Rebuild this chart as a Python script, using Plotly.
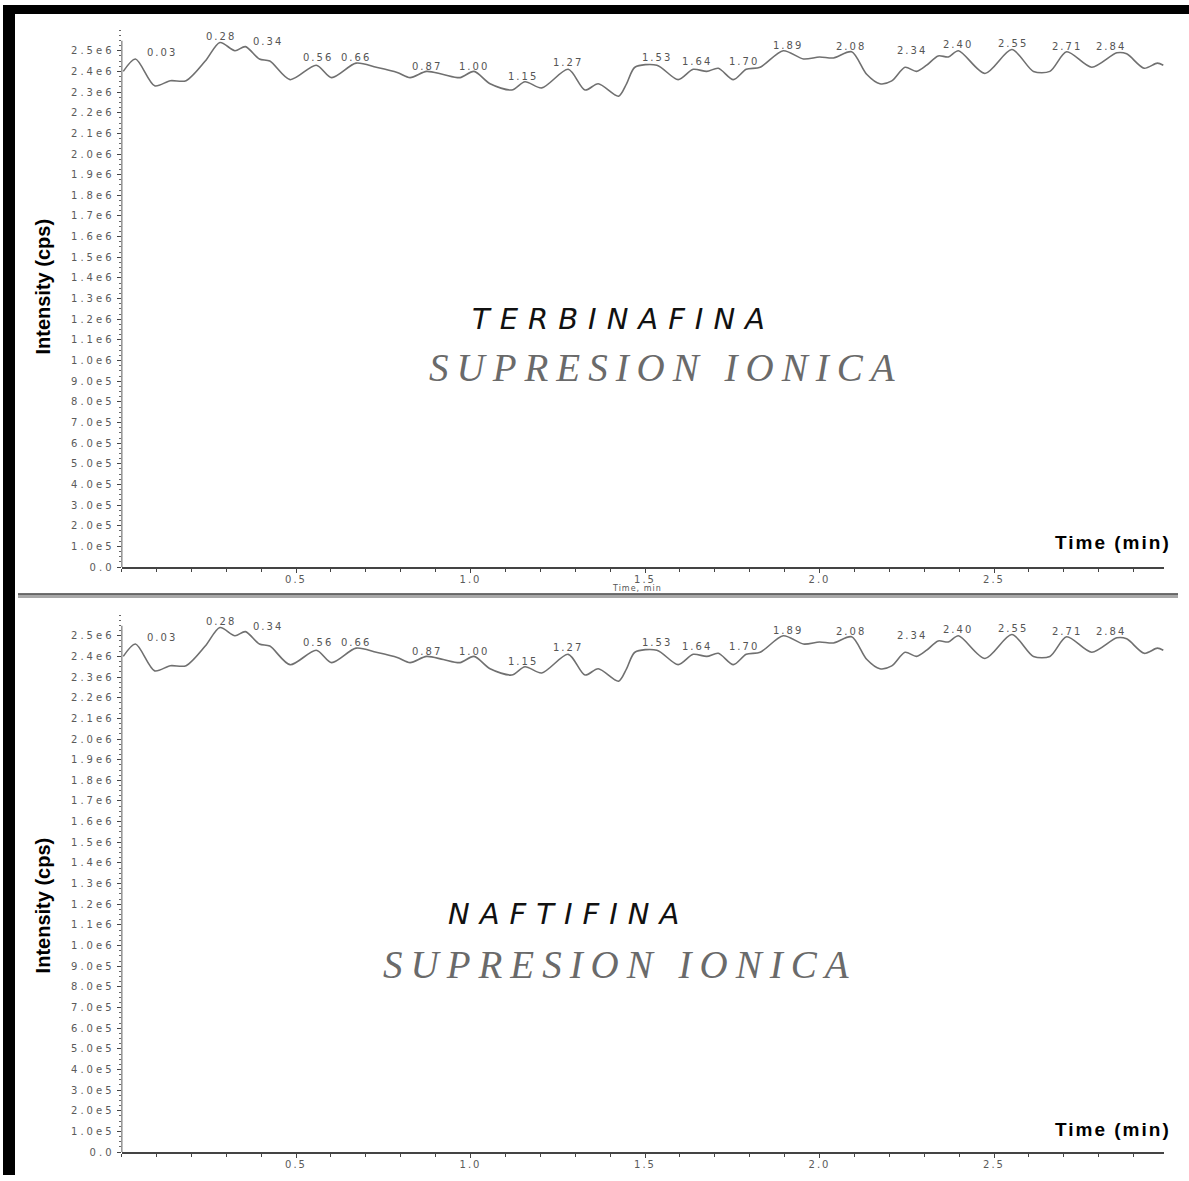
import plotly.graph_objects as go

# ---------------- data ----------------
time_min = [0.005, 0.04, 0.095, 0.14, 0.185, 0.24, 0.282, 0.325, 0.355, 0.395, 0.425,
            0.483, 0.558, 0.602, 0.672, 0.73, 0.79, 0.827, 0.874, 0.922, 0.97, 1.01,
            1.056, 1.118, 1.156, 1.204, 1.28, 1.328, 1.366, 1.424, 1.447, 1.471, 1.534,
            1.595, 1.638, 1.677, 1.71, 1.753, 1.79, 1.83, 1.896, 1.954, 2.0, 2.04,
            2.092, 2.135, 2.173, 2.207, 2.245, 2.278, 2.307, 2.34, 2.369, 2.398, 2.474,
            2.551, 2.613, 2.66, 2.708, 2.78, 2.852, 2.88, 2.93, 2.968, 2.985]
intensity = [2.40e6, 2.46e6, 2.33e6, 2.355e6, 2.355e6, 2.45e6, 2.54e6, 2.50e6, 2.52e6, 2.46e6, 2.45e6,
             2.36e6, 2.43e6, 2.37e6, 2.44e6, 2.42e6, 2.395e6, 2.37e6, 2.40e6, 2.385e6, 2.37e6, 2.40e6,
             2.34e6, 2.31e6, 2.35e6, 2.32e6, 2.41e6, 2.31e6, 2.34e6, 2.28e6, 2.34e6, 2.42e6, 2.43e6,
             2.36e6, 2.41e6, 2.40e6, 2.415e6, 2.36e6, 2.41e6, 2.42e6, 2.50e6, 2.46e6, 2.47e6, 2.465e6,
             2.495e6, 2.386e6, 2.34e6, 2.354e6, 2.42e6, 2.40e6, 2.43e6, 2.475e6, 2.47e6, 2.50e6, 2.39e6,
             2.506e6, 2.40e6, 2.40e6, 2.495e6, 2.42e6, 2.49e6, 2.485e6, 2.415e6, 2.44e6, 2.43e6]

peak_labels = ["0.03", "0.28", "0.34", "0.56", "0.66", "0.87", "1.00", "1.15", "1.27", "1.53",
               "1.64", "1.70", "1.89", "2.08", "2.34", "2.40", "2.55", "2.71", "2.84"]
peak_label_t = [0.116, 0.285, 0.42, 0.563, 0.672, 0.875, 1.01, 1.15, 1.279, 1.534,
                1.649, 1.784, 1.91, 2.09, 2.265, 2.397, 2.554, 2.709, 2.835]
peak_label_v = [2.49e6, 2.567e6, 2.543e6, 2.466e6, 2.466e6, 2.423e6, 2.423e6, 2.375e6, 2.442e6, 2.466e6,
                2.447e6, 2.447e6, 2.524e6, 2.519e6, 2.50e6, 2.529e6, 2.534e6, 2.519e6, 2.519e6]

y_tick_vals = [i * 1e5 for i in range(26)]
y_tick_text = ["0.0", "1.0e5", "2.0e5", "3.0e5", "4.0e5", "5.0e5", "6.0e5", "7.0e5", "8.0e5", "9.0e5",
               "1.0e6", "1.1e6", "1.2e6", "1.3e6", "1.4e6", "1.5e6", "1.6e6", "1.7e6", "1.8e6", "1.9e6",
               "2.0e6", "2.1e6", "2.2e6", "2.3e6", "2.4e6", "2.5e6"]
x_tick_vals = [0.5, 1.0, 1.5, 2.0, 2.5]
x_tick_text = ["0.5", "1.0", "1.5", "2.0", "2.5"]

panel_names = ["TERBINAFINA", "NAFTIFINA"]
subtitle = "SUPRESION IONICA"

# ---------------- layout helpers ----------------
W, H = 1189, 1181
def px(x):
    return x / W
def py(y):
    return 1 - y / H

Y_MAX = 2.6e6
AXIS_TOP = 2.548e6
X_MAX = 2.987
PX_PER_1E5 = 20.76
zero_px = [570, 1158]

def sp(t, ls):
    return f'<span style="letter-spacing:{ls}px">{t}</span>'

fig = go.Figure()
tick_font = dict(family="DejaVu Sans, Arial", size=10, color="#5a5a5a")

shapes = []
annotations = []
for i in range(2):
    xa = "x" if i == 0 else "x2"
    ya = "y" if i == 0 else "y2"
    fig.add_trace(go.Scatter(x=time_min, y=intensity, mode="lines",
                             line=dict(color="#707070", width=1.6, shape="spline", smoothing=0.8),
                             xaxis=xa, yaxis=ya, showlegend=False, hoverinfo="skip"))
    z = zero_px[i]
    ydom = [py(z), py(z - Y_MAX / 1e5 * PX_PER_1E5)]
    axis_common = dict(showgrid=False, zeroline=False)
    fig.layout["xaxis" + ("" if i == 0 else "2")] = dict(
        domain=[px(121.5), px(1164)], range=[0, X_MAX], anchor=ya,
        tickmode="array", tickvals=x_tick_vals, ticktext=[sp(t, 2) for t in x_tick_text],
        ticks="outside", ticklen=4, tickwidth=1, tickcolor="#444", ticklabelstandoff=-2,
        minor=dict(tickmode="linear", tick0=0, dtick=0.1, ticks="outside", ticklen=3, tickcolor="#444"),
        showline=True, linecolor="#444", linewidth=1.5, tickfont=tick_font, **axis_common)
    fig.layout["yaxis" + ("" if i == 0 else "2")] = dict(
        domain=ydom, range=[0, Y_MAX], anchor=xa,
        tickmode="array", tickvals=y_tick_vals, ticktext=[sp(t, 3) for t in y_tick_text],
        ticks="outside", ticklen=4, tickwidth=1, tickcolor="#444",
        minor=dict(tickmode="linear", tick0=0, dtick=2.5e4, ticks="outside", ticklen=2, tickcolor="#666"),
        showline=False, tickfont=tick_font, **axis_common)
    shapes.append(dict(type="line", xref=xa, yref=ya, x0=0, x1=0, y0=0, y1=AXIS_TOP,
                       line=dict(color="#333", width=1.6)))
    for t, x, v in zip(peak_labels, peak_label_t, peak_label_v):
        annotations.append(dict(text=sp(t, 2), x=x, y=v, xref=xa, yref=ya, showarrow=False,
                                font=dict(family="DejaVu Sans, Arial", size=10, color="#555"),
                                xanchor="center", yanchor="middle"))

# "Time, min" small label just above the separator (top panel only)
annotations.append(dict(text=sp("Time, min", 1), x=px(637), y=py(592), xref="paper", yref="paper",
                        showarrow=False, xanchor="center", yanchor="middle", borderpad=0,
                        font=dict(family="DejaVu Sans, Arial", size=8, color="#555")))

# titles / overlay texts
title_pos = [(623, 321, 666, 369, 288, 545), (568, 919, 620, 969, 910, 1135)]
for name, (tx, ty, sx, sy, iy, ty2) in zip(panel_names, title_pos):
    annotations.append(dict(text=sp(f"<i>{name}</i>", 10), x=px(tx), y=py(ty), xref="paper", yref="paper",
                            showarrow=False, xanchor="center", yanchor="middle",
                            font=dict(family="DejaVu Sans, Arial", size=29, color="#111")))
    annotations.append(dict(text=sp(f"<i>{subtitle}</i>", 8), x=px(sx), y=py(sy), xref="paper", yref="paper",
                            showarrow=False, xanchor="center", yanchor="middle",
                            font=dict(family="Liberation Serif, Times New Roman", size=39, color="#6a6a6a")))
    annotations.append(dict(text="<b>Intensity (cps)</b>", x=px(43), y=py(iy), xref="paper", yref="paper",
                            showarrow=False, textangle=-90, xanchor="center", yanchor="middle",
                            font=dict(family="Liberation Sans, Arial", size=20, color="#000")))
    annotations.append(dict(text=sp("<b>Time (min)</b>", 2), x=px(1173), y=py(ty2), xref="paper", yref="paper",
                            showarrow=False, xanchor="right", yanchor="middle",
                            font=dict(family="Liberation Sans, Arial", size=19, color="#000")))

# frame and separator
shapes += [
    dict(type="rect", xref="paper", yref="paper", x0=px(3), x1=px(15), y0=py(H), y1=py(5),
         fillcolor="#000", line=dict(width=0), layer="above"),
    dict(type="rect", xref="paper", yref="paper", x0=px(3), x1=px(W), y0=py(14), y1=py(5),
         fillcolor="#000", line=dict(width=0), layer="above"),
    dict(type="rect", xref="paper", yref="paper", x0=px(18), x1=px(1178), y0=py(601), y1=py(596.5),
         fillcolor="#a8a8a8", line=dict(width=0), layer="above"),
    dict(type="line", xref="paper", yref="paper", x0=px(18), x1=px(1178), y0=py(597), y1=py(597),
         line=dict(color="#505050", width=1.5), layer="above"),
]

fig.update_layout(width=W, height=H, autosize=False, margin=dict(l=0, r=0, t=0, b=0),
                  paper_bgcolor="white", plot_bgcolor="white",
                  shapes=shapes, annotations=annotations, showlegend=False)

fig.write_html("out.html", config={"displayModeBar": False},
               post_script="document.body.style.margin='0';document.body.style.overflow='hidden';")
